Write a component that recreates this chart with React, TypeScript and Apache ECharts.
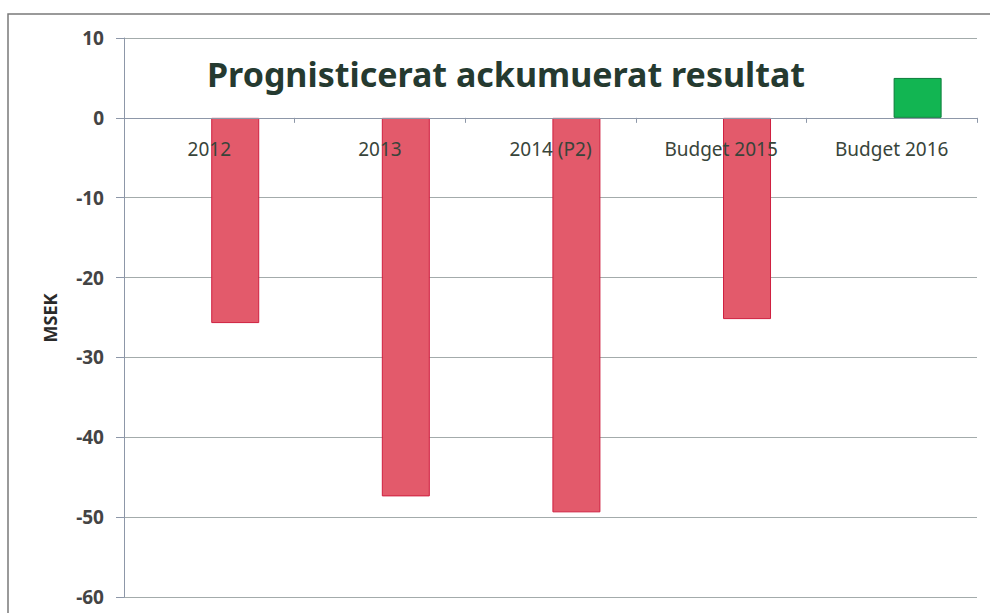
import React, { useEffect, useRef } from "react";
import * as echarts from "echarts";

const categories = ["2012", "2013", "2014 (P2)", "Budget 2015", "Budget 2016"];
const resultValues = [-25.7, -47.4, -49.4, -25.2, 5];
const yTicks = { min: -60, max: 10, interval: 10 };
const titleText = "Prognisticerat ackumuerat resultat";
const yAxisName = "MSEK";

const RED = "#e35a6b";
const RED_BORDER = "#cf1f3f";
const GREEN = "#12b552";
const GREEN_BORDER = "#0b7d3a";

const GRID_TOP = 38;
const GRID_BOTTOM = 16;
const PLOT_H = 613 - GRID_TOP - GRID_BOTTOM;

export default function App() {
  const ref = useRef<HTMLDivElement>(null);
  useEffect(() => {
    document.body.style.margin = "0";
    if (!ref.current) return;
    const chart = echarts.init(ref.current, undefined, { renderer: "svg" });
    const zeroFromBottom = (PLOT_H * (0 - yTicks.min)) / (yTicks.max - yTicks.min);
    chart.setOption({
      animation: false,
      backgroundColor: "#ffffff",
      grid: {
        left: 124,
        right: 13,
        top: GRID_TOP,
        bottom: GRID_BOTTOM,
        containLabel: false,
        outerBoundsMode: "none",
      },
      graphic: [
        {
          type: "rect",
          shape: { x: 8, y: 14, width: 1100, height: 800 },
          style: { fill: "none", stroke: "#7a7a7a", lineWidth: 1.5 },
          z: 0,
        },
        {
          type: "text",
          left: 207,
          top: 57,
          style: {
            text: titleText,
            font: "bold 34px 'Noto Sans', 'Open Sans', sans-serif",
            fill: "#253a30",
          },
          z: 20,
        },
        {
          type: "text",
          x: 50,
          y: 318,
          rotation: Math.PI / 2,
          style: {
            text: yAxisName,
            font: "bold 18px 'Noto Sans', sans-serif",
            fill: "#2a2a2a",
            align: "center",
            verticalAlign: "middle",
          },
          z: 20,
        },
      ],
      xAxis: {
        type: "category",
        data: categories,
        z: 10,
        position: "bottom",
        offset: -zeroFromBottom,
        axisLine: { show: true, onZero: false, lineStyle: { color: "#8d97a8", width: 1 } },
        axisTick: { show: true, length: 5, lineStyle: { color: "#8d97a8" } },
        axisLabel: {
          margin: 22,
          fontSize: 19,
          fontFamily: "'Noto Sans', sans-serif",
          color: "#38443a",
        },
      },
      yAxis: {
        type: "value",
        min: yTicks.min,
        max: yTicks.max,
        interval: yTicks.interval,
        axisLine: { show: true, lineStyle: { color: "#8d97a8", width: 1 } },
        axisTick: { show: true, inside: false, length: 8, lineStyle: { color: "#8d97a8" } },
        axisLabel: {
          margin: 20,
          fontSize: 19,
          fontWeight: "bold",
          fontFamily: "'Noto Sans', sans-serif",
          color: "#444444",
        },
        splitLine: { show: true, lineStyle: { color: "#a3abab", width: 1 } },
      },
      series: [
        {
          type: "bar",
          name: "spacer",
          data: categories.map(() => "-"),
          barWidth: 48,
          barGap: "8%",
          silent: true,
        },
        {
          type: "bar",
          name: "Resultat",
          barWidth: 48,
          barGap: "8%",
          data: resultValues.map((v) => ({
            value: v,
            itemStyle: {
              color: v < 0 ? RED : GREEN,
              borderColor: v < 0 ? RED_BORDER : GREEN_BORDER,
              borderWidth: 1,
            },
          })),
        },
      ],
    });
    return () => chart.dispose();
  }, []);
  return <div ref={ref} style={{ width: 990, height: 613 }} />;
}
